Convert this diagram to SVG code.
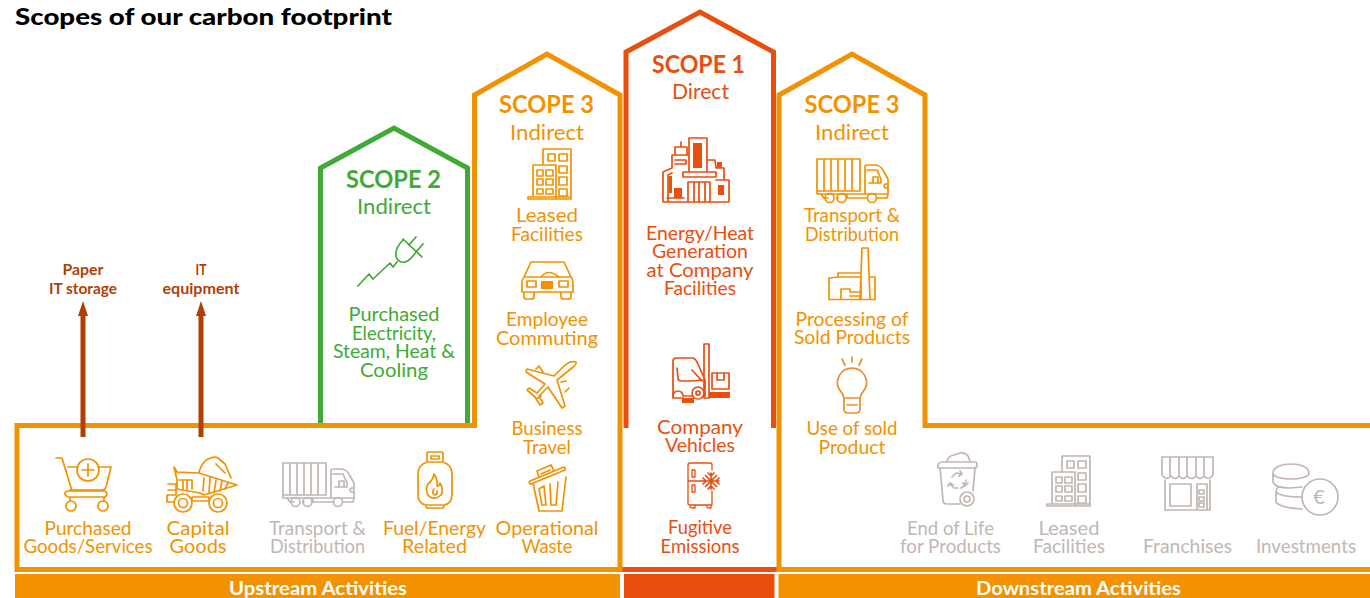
<svg xmlns="http://www.w3.org/2000/svg" width="1370" height="598" viewBox="0 0 1370 598">
<style>
text{font-family:Lato,"Liberation Sans",sans-serif;text-anchor:middle;font-size:18.5px}
.o{fill:#f39200}.r{fill:#e94e0f}.g{fill:#3faa35}.y{fill:#c2b6b3}.b{fill:#b13f05;font-size:14.5px;font-weight:700}
.h{font-size:24px;font-weight:700}.s{font-size:21px}
.w{fill:#fff;font-weight:700;font-size:18px}
.t{fill:#000;font-weight:900;font-size:22px;text-anchor:start}
.line{fill:none;stroke-width:5;stroke-linejoin:miter}
.i{fill:none;stroke-width:1.7;stroke-linejoin:round;stroke-linecap:round}
.io{stroke:#f39200}.ir{stroke:#e94e0f}.ig{stroke:#3faa35}.iy{stroke:#c2b6b3}
</style>
<defs>
<g id="truck">
<path d="M0 0H43V32H0ZM7 0V32M14 0V32M21 0V32M28 0V32M35 0V32"/>
<path d="M0 32V35H71V28M48 35V8Q48 6 50 6H58Q64 6 67 13L71 20V28M50 11H60L64 20V24H52M56 18H61V24H56ZM71 25H68Q66 27 68 29H71"/>
<path d="M4 35L7 39H11M20 39H21M30 35V39H50M60 39H70L71 35"/>
<circle cx="12.500" cy="39" r="4.500"/><circle cx="24.500" cy="39" r="4.500"/><circle cx="55" cy="39" r="4.500"/>
</g>
<g id="building">
<path d="M0 16V0H28V50H-15V48H-10V16H13V50M-10 48H28"/>
<path d="M5 5H12V12H5ZM16 5H24V12H16ZM16 17H24V24H16ZM16 28H24V36H16ZM16 40H24V47H16Z"/>
<path d="M-6 21H0V27H-6ZM3 21H10V27H3ZM-6 30H0V36H-6ZM3 30H10V36H3ZM-6 40H0V45H-6ZM3 40H10V45H3Z"/>
</g>
</defs>
<rect x="0" y="0" width="1370" height="598" fill="#fff"/>
<text id="title" class="t" x="15" y="25" textLength="377" lengthAdjust="spacingAndGlyphs">Scopes of our carbon footprint</text>

<g id="connectors">
<path class="line" stroke="#3faa35" d="M320.500 425V168L394 128L467.500 168V425"/>
<path class="line" stroke="#e94e0f" d="M626 428V52L700 12L773.500 52V428"/>
<path class="line" stroke="#e94e0f" d="M622 569.500H777"/>
<path class="line" stroke="#f39200" d="M620 569.500H17V425.500H474.500V95L547 54L620 95Z"/>
<path class="line" stroke="#f39200" d="M1370 425.500H925V95L852 54L779 95V569.500H1370"/>
<path d="M80.500 437V316H78L83 301L88 316H85.500V437ZM198.500 437V316H196L201 301L206 316H203.500V437Z" fill="#b13f05"/>
</g>

<g id="bar-upstream"><rect x="15" y="574" width="605" height="24" fill="#f39200"/><text class="w" x="318" y="595" textLength="178" lengthAdjust="spacingAndGlyphs">Upstream Activities</text></g>
<g id="bar-direct"><rect x="624" y="574" width="150.500" height="24" fill="#e94e0f"/></g>
<g id="bar-downstream"><rect x="778.500" y="574" width="591.500" height="24" fill="#f39200"/><text class="w" x="1078.500" y="595" textLength="205" lengthAdjust="spacingAndGlyphs">Downstream Activities</text></g>

<g id="note-paper"><text class="b"><tspan x="83" y="275" textLength="41" lengthAdjust="spacingAndGlyphs">Paper</tspan><tspan x="83" y="294" textLength="68" lengthAdjust="spacingAndGlyphs">IT storage</tspan></text></g>
<g id="note-it"><text class="b"><tspan x="201" y="275" textLength="11" lengthAdjust="spacingAndGlyphs">IT</tspan><tspan x="201" y="294" textLength="77" lengthAdjust="spacingAndGlyphs">equipment</tspan></text></g>

<g id="scope2">
<text class="g h" x="393.500" y="188" textLength="95" lengthAdjust="spacingAndGlyphs">SCOPE 2</text>
<text class="g s" x="394" y="214" textLength="74" lengthAdjust="spacingAndGlyphs">Indirect</text>
<path class="i ig" d="M358 286L369 274L373 279L390 263L393 267L397 262M403 239L422 257M403 240Q393 250 397 259Q405 268 416 252M409 245L416 237M416 252L423 244"/>
<text class="g"><tspan x="394" y="321" textLength="91" lengthAdjust="spacingAndGlyphs">Purchased</tspan><tspan x="394" y="340" textLength="84" lengthAdjust="spacingAndGlyphs">Electricity,</tspan><tspan x="394" y="358" textLength="122" lengthAdjust="spacingAndGlyphs">Steam, Heat &amp;</tspan><tspan x="394" y="377" textLength="68" lengthAdjust="spacingAndGlyphs">Cooling</tspan></text>
</g>

<g id="scope3-up">
<text class="o h" x="546.500" y="113" textLength="95" lengthAdjust="spacingAndGlyphs">SCOPE 3</text>
<text class="o s" x="547" y="140" textLength="74" lengthAdjust="spacingAndGlyphs">Indirect</text>
<use href="#building" x="543" y="149" class="i io"/>
<text class="o"><tspan x="547" y="222" textLength="62" lengthAdjust="spacingAndGlyphs">Leased</tspan><tspan x="547" y="241" textLength="72" lengthAdjust="spacingAndGlyphs">Facilities</tspan></text>
<path class="i io" d="M524 277L531 262H564L571 277Q573 279 573 283V292H522V283Q522 279 524 277ZM524 292V297Q524 299 527 299H531Q534 299 534 297V292M561 292V297Q561 299 564 299H568Q571 299 571 297V292M524 277H571M541 277Q548 268 559 277M527 281H536V287H527ZM559 281H568V287H559Z"/>
<rect x="541" y="281" width="12" height="8" fill="#f39200"/>
<text class="o"><tspan x="547" y="326" textLength="82" lengthAdjust="spacingAndGlyphs">Employee</tspan><tspan x="547" y="345" textLength="102" lengthAdjust="spacingAndGlyphs">Commuting</tspan></text>
<path class="i io" d="M576 362Q570 360 563 367L554 376L527 369L526 372L545 384L537 393L529 388L527 390L535 397L540 405L543 403L539 396L548 387L562 408L565 406L557 380L572 368Q577 364 576 362ZM536 369L539 366L543 372M541 396L536 399M565 392L569 388M561 382L566 381"/>
<text class="o"><tspan x="547" y="435" textLength="71" lengthAdjust="spacingAndGlyphs">Business</tspan><tspan x="547" y="454" textLength="48" lengthAdjust="spacingAndGlyphs">Travel</tspan></text>
<path class="i io" d="M530 481L564 467Q566 468 565 470L531 484Q528 483 530 481ZM539 477L537 471L551 465L554 471M541 474L550 470M533 483L539 511H562L566 477M539 489L542 505H546L544 486ZM550 484L551 505M558 482L556 505H552"/>
<text class="o"><tspan x="547" y="535" textLength="103" lengthAdjust="spacingAndGlyphs">Operational</tspan><tspan x="547" y="553" textLength="51" lengthAdjust="spacingAndGlyphs">Waste</tspan></text>
</g>

<g id="scope1">
<text class="r h" x="698.500" y="73" textLength="93" lengthAdjust="spacingAndGlyphs">SCOPE 1</text>
<text class="r s" x="700.500" y="99" textLength="57" lengthAdjust="spacingAndGlyphs">Direct</text>
<path class="i ir" d="M663 202H729V180H724V168H716L715 160H707V138H689V155H687V147H681V142M681 147H675V155H672V168L663 172V202M672 155H689M675 160H686V164H675M683 172V177H716V172H683ZM689 172V155M707 160V172M688 182H710V202H688ZM694 182V202M699 182V202M705 182V202M668 202V175L672 173M716 180H724M667 198H684"/>
<path d="M693 143H702V168H693ZM674 188H682V198H674ZM669 176H672V193H669ZM718 185H724V195H718ZM717 162H722V168H717Z" fill="#e94e0f"/>
<text class="r"><tspan x="700" y="240" textLength="108" lengthAdjust="spacingAndGlyphs">Energy/Heat</tspan><tspan x="700" y="258" textLength="96" lengthAdjust="spacingAndGlyphs">Generation</tspan><tspan x="700" y="276.500" textLength="107" lengthAdjust="spacingAndGlyphs">at Company</tspan><tspan x="700" y="295" textLength="72" lengthAdjust="spacingAndGlyphs">Facilities</tspan></text>
<path class="i ir" d="M673 396V361Q673 358 676 358H692Q695 358 697 362L705 380V396M704 344H709V398H704ZM712 373H729V389H712ZM717 373V380H724V373M677 368L678 378Q678 381 682 381H692L702 380M692 370L702 381M684 396H692"/>
<circle class="i ir" cx="698" cy="393" r="6"/><circle class="i ir" cx="698" cy="393" r="2"/>
<path class="i ir" d="M683 398H673V396A5 5 0 0 1 683 396"/>
<path d="M709 392H730V398H709ZM682 398H694V403H682Z" fill="#e94e0f"/>
<text class="r"><tspan x="700" y="433.500" textLength="86" lengthAdjust="spacingAndGlyphs">Company</tspan><tspan x="700" y="452" textLength="70" lengthAdjust="spacingAndGlyphs">Vehicles</tspan></text>
<path class="i ir" style="stroke-width:1.3" d="M712 470V465Q712 463 710 463H690Q688 463 688 465V504Q688 505 690 505H712V491M688 481H703M692 470H695V477H692ZM692 485H695V492H692ZM690 505V507Q690 508 693 508H695V505M707 505V507Q707 508 709 508H711V505"/>
<path class="i ir" d="M711 473V489M703 481H719M705.500 475.500L716.500 486.500M716.500 475.500L705.500 486.500M708 473L711 476L714 473M708 489L711 486L714 489M703 478L706 481L703 484M719 478L716 481L719 484"/>
<text class="r"><tspan x="700" y="534" textLength="64" lengthAdjust="spacingAndGlyphs">Fugitive</tspan><tspan x="700" y="553" textLength="79" lengthAdjust="spacingAndGlyphs">Emissions</tspan></text>
</g>

<g id="scope3-down">
<text class="o h" x="852" y="113" textLength="95" lengthAdjust="spacingAndGlyphs">SCOPE 3</text>
<text class="o s" x="852" y="140" textLength="74" lengthAdjust="spacingAndGlyphs">Indirect</text>
<use href="#truck" x="817" y="159" class="i io"/>
<text class="o"><tspan x="852" y="222" textLength="96" lengthAdjust="spacingAndGlyphs">Transport &amp;</tspan><tspan x="852" y="241" textLength="94" lengthAdjust="spacingAndGlyphs">Distribution</tspan></text>
<path class="i io" d="M829 299.500V278L838 277V273H861V299.500ZM838 277H861M862 248H868L870 299.500H860ZM870 277H875V299.500H870M841 299.500V289H850V292H860M850 296H860"/>
<text class="o"><tspan x="852" y="326" textLength="113" lengthAdjust="spacingAndGlyphs">Processing of</tspan><tspan x="852" y="344" textLength="116" lengthAdjust="spacingAndGlyphs">Sold Products</tspan></text>
<path class="i" stroke="#ee8d30" d="M844 398C843 393 841 392 839 389A14.500 14.500 0 1 1 865 389C863 392 861 393 860 398"/>
<path class="i" stroke="#ee8d30" d="M844 398H860V409Q860 413 856 413H848Q844 413 844 409ZM847 405H857M852 357V362M842 359L845 365M862 359L859 365"/>
<text class="o"><tspan x="852" y="435" textLength="91" lengthAdjust="spacingAndGlyphs">Use of sold</tspan><tspan x="852" y="454" textLength="67" lengthAdjust="spacingAndGlyphs">Product</tspan></text>
</g>

<g id="purchased-goods">
<path class="i io" d="M56 458H62L72 491M68 467H78M98 467H111L106 487Q105 490 102 490H70M67 491H105Q109 494 105 497H68Q62 494 67 491ZM70 497V501M104 497V501"/>
<circle class="i io" cx="88" cy="470" r="11"/><path class="i io" d="M88 464V476M82 470H94"/>
<circle class="i io" cx="71" cy="506" r="5"/><circle class="i io" cx="103" cy="506" r="5"/>
<text class="o"><tspan x="88" y="535" textLength="87" lengthAdjust="spacingAndGlyphs">Purchased</tspan><tspan x="88" y="553" textLength="129" lengthAdjust="spacingAndGlyphs">Goods/Services</tspan></text>
</g>
<g id="capital-goods">
<path class="i io" d="M174 467L177 472L199 473L237 485L204 495L200 493L177 489V480ZM199 472Q202 462 208 459Q214 456 218 458L225 464L231 478M216 464L225 473M204 478L203 491M210 477L209 493M216 480L214 493M222 481L220 491M228 483L225 489M179 480H192V489M183 481V489M187 481V489M168 484H176V495H167V502H174M168 490H175M192 497H209V501H192Z"/>
<circle class="i io" cx="183" cy="503" r="9"/><circle class="i io" cx="183" cy="503" r="4.500"/>
<circle class="i io" cx="218" cy="503" r="9"/><circle class="i io" cx="218" cy="503" r="4.500"/>
<text class="o"><tspan x="198" y="535" textLength="63" lengthAdjust="spacingAndGlyphs">Capital</tspan><tspan x="198" y="553" textLength="57" lengthAdjust="spacingAndGlyphs">Goods</tspan></text>
</g>
<g id="transport-up">
<use href="#truck" x="283" y="463" class="i iy"/>
<text class="y"><tspan x="317.500" y="535" textLength="97" lengthAdjust="spacingAndGlyphs">Transport &amp;</tspan><tspan x="317.500" y="553" textLength="95" lengthAdjust="spacingAndGlyphs">Distribution</tspan></text>
</g>
<g id="fuel-energy">
<path class="i io" d="M428 452H442Q443 452 443 454V462H427V454Q427 452 428 452ZM431 456H439V459H431ZM427 462Q418 465 418 474V494Q418 504 426 505H444Q452 504 452 494V474Q452 465 443 462M426 505V507Q426 508 429 508H442Q444 508 444 505M434 474Q433 480 428 484Q424 492 430 497Q436 500 441 495Q444 490 440 483Q439 487 437 486Q438 480 434 474ZM434 489Q431 493 435 495Q438 494 437 491"/>
<text class="o"><tspan x="434.500" y="535" textLength="103" lengthAdjust="spacingAndGlyphs">Fuel/Energy</tspan><tspan x="434.500" y="553" textLength="65" lengthAdjust="spacingAndGlyphs">Related</tspan></text>
</g>
<g id="end-of-life">
<path class="i iy" d="M938 468Q937 463 942 462H976Q978 464 976 468ZM947 461Q948 456 954 455L960 453Q965 452 968 456L970 461M940 468L943 500Q943 504 947 504H960M975 468L973 491"/>
<circle class="i iy" cx="967" cy="499" r="7"/><circle class="i iy" cx="967" cy="499" r="3"/>
<path class="i iy" d="M952 477L956 473L962 474M950 484L954 488H958M966 480L965 485L961 488M960 471L962 474L959 476M948 486L950 483L953 485M968 483L965 486L963 483"/>
<text class="y"><tspan x="950.500" y="535" textLength="87" lengthAdjust="spacingAndGlyphs">End of Life</tspan><tspan x="950.500" y="553" textLength="101" lengthAdjust="spacingAndGlyphs">for Products</tspan></text>
</g>
<g id="leased-down">
<use href="#building" x="1062" y="456" class="i iy"/>
<text class="y"><tspan x="1069" y="535" textLength="61" lengthAdjust="spacingAndGlyphs">Leased</tspan><tspan x="1069" y="553" textLength="72" lengthAdjust="spacingAndGlyphs">Facilities</tspan></text>
</g>
<g id="franchises">
<path class="i iy" d="M1162 457H1213V475Q1209 481 1204 476Q1200 481 1196 476Q1192 481 1187 476Q1183 481 1179 476Q1175 481 1171 476Q1166 481 1162 475ZM1170 457V476M1179 457V476M1187 457V476M1196 457V476M1204 457V476M1165 480V510H1210V480M1170 484H1191V506H1170ZM1197 484H1207V510H1197ZM1199 490H1204V494H1199ZM1199 497H1204V501H1199ZM1199 503H1204V507H1199Z"/>
<text class="y" x="1187.500" y="553" textLength="89" lengthAdjust="spacingAndGlyphs">Franchises</text>
</g>
<g id="investments">
<path class="i iy" d="M1273 473C1273 461 1309 461 1309 473C1309 481 1273 481 1273 473ZM1273 473V482Q1275 488 1290 488L1302 487M1278 487Q1276 490 1276 492V502Q1280 508 1302 509M1276 492Q1280 497 1302 497"/>
<circle class="i iy" cx="1320" cy="497" r="18"/>
<text class="y" x="1319" y="504" style="font-size:20px">€</text>
<text class="y" x="1306" y="553" textLength="100" lengthAdjust="spacingAndGlyphs">Investments</text>
</g>
</svg>
